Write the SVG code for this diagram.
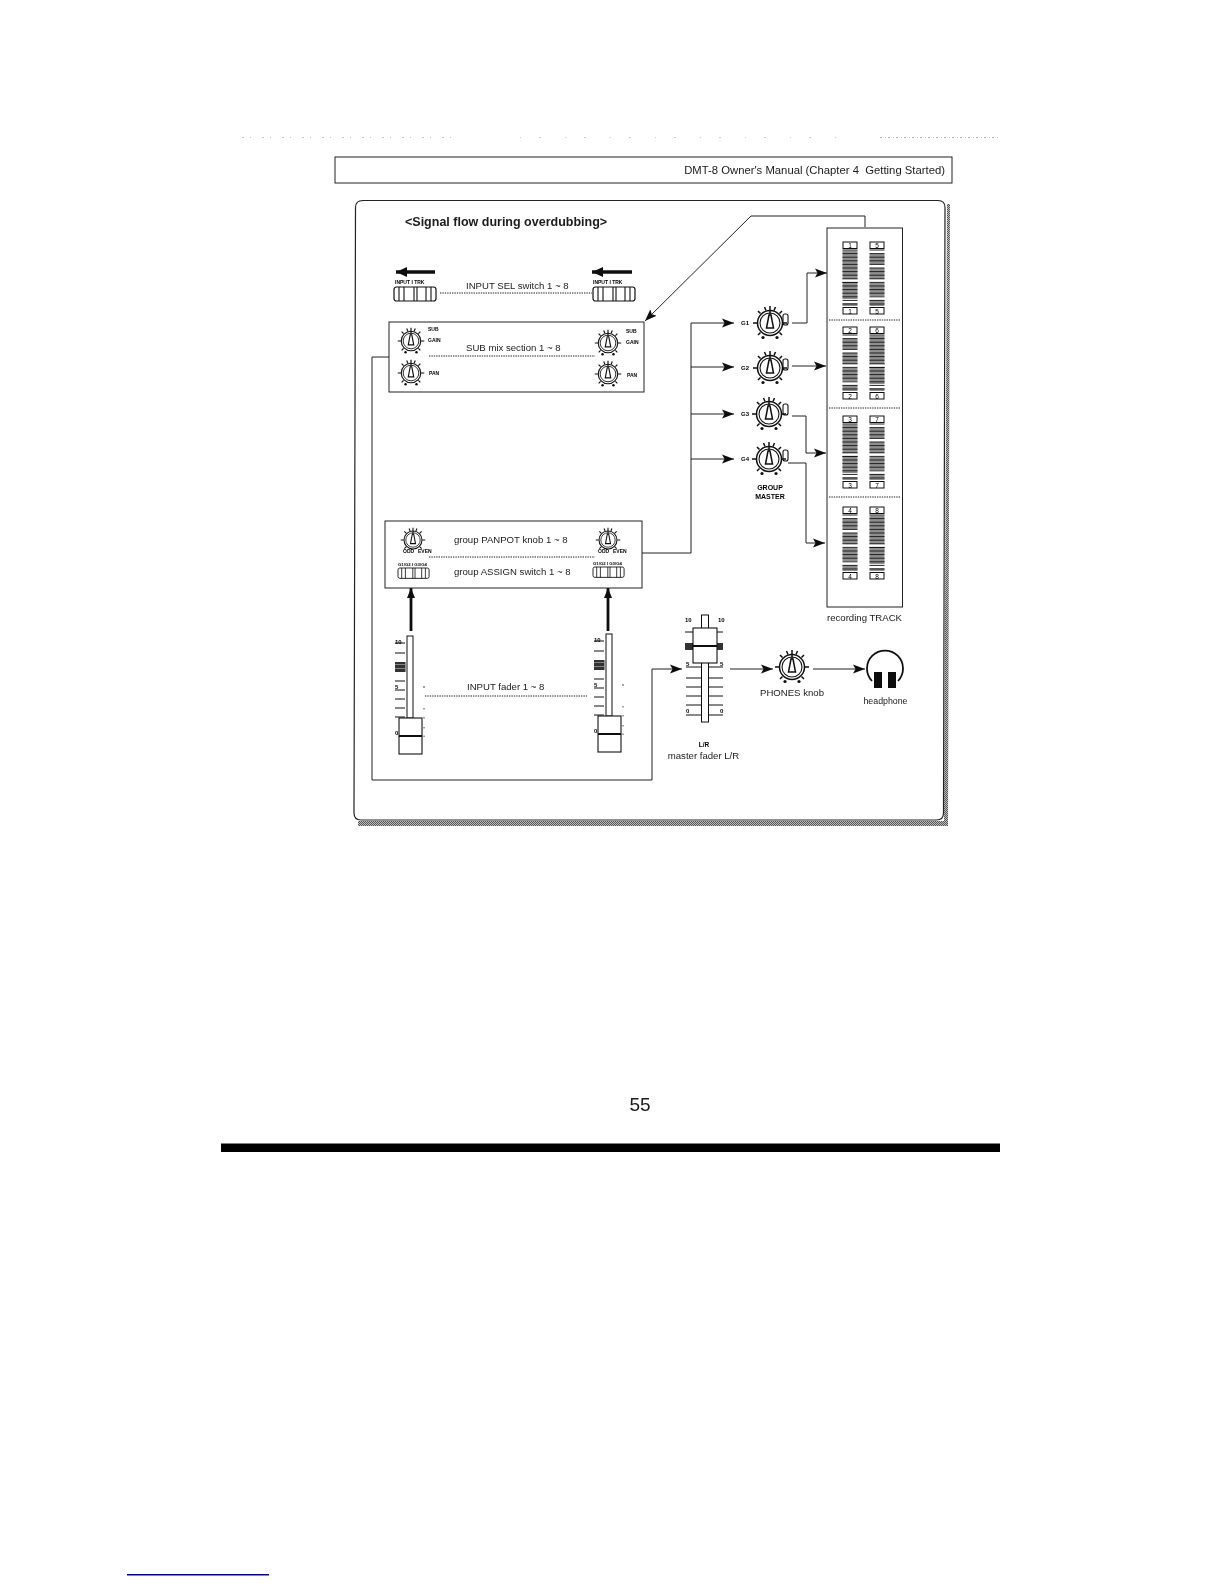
<svg xmlns="http://www.w3.org/2000/svg" width="1224" height="1584" viewBox="0 0 1224 1584">
<style>
text{font-family:"Liberation Sans",Arial,sans-serif;fill:#1a1a1a}
.t{font-size:9.6px}
.b{font-weight:bold}
.m{text-anchor:middle}
.tiny{font-size:5px;font-weight:bold;fill:#000}
.n{font-size:6.5px;text-anchor:middle;fill:#000}
.ln{fill:none;stroke:#222;stroke-width:1}
.box{fill:#fff;stroke:#222;stroke-width:1}
.dot{fill:none;stroke:#222;stroke-width:1;stroke-dasharray:1.4 1}
.thick{fill:none;stroke:#111;stroke-width:2.8}
.big{fill:none;stroke:#111;stroke-width:3.6}
</style>
<defs>
<pattern id="stip" width="2" height="2" patternUnits="userSpaceOnUse"><rect width="2" height="2" fill="#bdbdbd"/><rect width="1" height="1" fill="#555"/><rect x="1" y="1" width="1" height="1" fill="#555"/></pattern>
<filter id="scan" x="0" y="0" width="100%" height="100%"><feGaussianBlur stdDeviation="0.35"/></filter>
<marker id="ah" markerUnits="userSpaceOnUse" markerWidth="13" markerHeight="10" refX="12" refY="5" orient="auto"><path d="M0,0.5 L12,5 L0,9.5 L2.500,5 Z" fill="#111"/></marker>
<marker id="th" markerUnits="userSpaceOnUse" markerWidth="11" markerHeight="9" refX="10" refY="4.500" orient="auto"><path d="M0,0.500 L10,4.500 L0,8.500 Z" fill="#111"/></marker>
<marker id="tb" markerUnits="userSpaceOnUse" markerWidth="12" markerHeight="11" refX="11" refY="5.500" orient="auto"><path d="M0,0.500 L11,5.500 L0,10.500 Z" fill="#111"/></marker>
<g id="knob0">
<circle r="12.500" fill="#fff" stroke="#111" stroke-width="1.500"/>
<circle r="10" fill="none" stroke="#111" stroke-width="1.100"/>
<path d="M0,-17V-8M-17,0H-13M13,0H17M-12,-12L-9.500,-9.500M12,-12L9.500,-9.500M-12,12L-9.500,9.500M12,12L9.500,9.500M-5.500,-16L-4,-12.500M5.500,-16L4,-12.500" fill="none" stroke="#111" stroke-width="1.500"/>
<path d="M-1,-8L-3.500,5H3.500L1,-8Z" fill="#fff" stroke="#111" stroke-width="1.500"/>
</g>
<g id="knob">
<use href="#knob0"/>
<circle cx="-7" cy="14.500" r="1.600" fill="#111"/><circle cx="7" cy="14.500" r="1.600" fill="#111"/>
</g>
<g id="sw">
<rect x="0" y="0" width="42" height="14" rx="2.500" fill="#fff" stroke="#111" stroke-width="1.200"/>
<path d="M5,0V14M10,0V14M20,0V14M23,0V14M32,0V14M37,0V14" fill="none" stroke="#111" stroke-width="1.100"/>
</g>
<g id="meterA">
<rect width="15" height="58" fill="#fff"/>
<path d="M0,1.500H15V29H0ZM0,33H15V50H0ZM0,54H15V57H0Z" fill="#8e8e8e"/>
<path d="M0,1H15M0,4.600H15M0,8.200H15M0,11.800H15M0,15.400H15M0,19H15M0,22.600H15M0,26.200H15M0,29.800H15M0,33.400H15M0,37H15M0,40.600H15M0,44.200H15M0,47.800H15M0,51.400H15M0,55H15" stroke="#222" stroke-width="1" fill="none"/>
<path d="M0,29.500H15V33H0Z" fill="#fff"/><path d="M0,29.800H15M0,33.400H15" stroke="#111" stroke-width="1"/>
</g>
<g id="meterB">
<rect width="15" height="58" fill="#fff"/>
<path d="M0,5H15V15H0ZM0,19H15V30H0ZM0,34H15V47H0ZM0,51H15V57H0Z" fill="#8e8e8e"/>
<path d="M0,1H15M0,4.600H15M0,8.200H15M0,11.800H15M0,15.400H15M0,19H15M0,22.600H15M0,26.200H15M0,29.800H15M0,33.400H15M0,37H15M0,40.600H15M0,44.200H15M0,47.800H15M0,51.400H15M0,55H15" stroke="#222" stroke-width="1" fill="none"/>
</g>
<g id="fader">
<path d="M-15,7H-5M-15,17H-5M-15,45H-5M-15,54H-5M-15,63H-5M-15,72H-5M-15,81H-5" fill="none" stroke="#111" stroke-width="1"/>
<rect x="-15" y="26" width="10.500" height="10" fill="#333"/>
<path d="M-15,28.500H-4.500M-15,32.500H-4.500" stroke="#999" stroke-width="0.800"/>
<text class="tiny" x="-15" y="8" style="font-size:6px">10</text><text class="tiny" x="-15" y="53" style="font-size:6px">5</text><text class="tiny" x="-15" y="99" style="font-size:6px">0</text>
<rect x="-3" y="0" width="6" height="82" fill="#fff" stroke="#111" stroke-width="1"/>
<rect x="-11" y="82" width="23" height="36" fill="#fff" stroke="#111" stroke-width="1.100"/>
<path d="M-11,100H12" stroke="#111" stroke-width="2" fill="none"/>
<path d="M14,50V52M14,72V73.500M14,81V82.500M14,91V92.500M14,99.500V101" stroke="#333" stroke-width="0.900" fill="none"/>
</g>
</defs>
<rect width="1224" height="1584" fill="#fff"/>
<g filter="url(#scan)">
<g id="page">
<path d="M242,137H460" stroke="#888" stroke-width="1" stroke-dasharray="2 6 1 11" fill="none"/>
<path d="M520,137H850" stroke="#999" stroke-width="1" stroke-dasharray="1 18 2 24" fill="none"/>
<path d="M880,137H998" stroke="#777" stroke-width="1" stroke-dasharray="2 3 1 2" fill="none"/>
<rect x="335" y="157" width="617" height="26" fill="#fff" stroke="#222" stroke-width="1"/>
<text x="945" y="174" text-anchor="end" style="font-size:11.300px;white-space:pre">DMT-8 Owner's Manual (Chapter 4  Getting Started)</text>
<path d="M947,204H950L948,826H358V821H944Z" fill="url(#stip)"/>
<path d="M363,200.500H938Q945,200.500 945,207.500L943.500,813Q943.500,820 936.500,820H361Q354,820 354,813L355.500,207.500Q355.500,200.500 363,200.500Z" fill="#fff" stroke="#222" stroke-width="1.200"/>
<text x="405" y="226" class="b" style="font-size:12.500px">&lt;Signal flow during overdubbing&gt;</text>
<text x="640" y="1111" class="m" style="font-size:19px">55</text>
<rect x="221" y="1143.500" width="779" height="8.500" fill="#000"/>
<rect x="127" y="1574" width="142" height="1.500" fill="#0000a0"/>
</g>
<g id="connectors">
<path class="ln" d="M865,227V216H751L645,321" marker-end="url(#ah)"/>
<path class="ln" d="M389,357H372V780H652V669H682" marker-end="url(#ah)"/>
<path class="ln" d="M642,553H691V323H734" marker-end="url(#ah)"/>
<path class="ln" d="M691,367H734" marker-end="url(#ah)"/>
<path class="ln" d="M691,414H734" marker-end="url(#ah)"/>
<path class="ln" d="M691,459H734" marker-end="url(#ah)"/>
<path class="ln" d="M792,323H807V273H827" marker-end="url(#ah)"/>
<path class="ln" d="M792,366H826" marker-end="url(#ah)"/>
<path class="ln" d="M792,416H806V453H826" marker-end="url(#ah)"/>
<path class="ln" d="M788,463H806V543H825" marker-end="url(#ah)"/>
<path class="ln" d="M730,669H773" marker-end="url(#ah)"/>
<path class="ln" d="M813,669H865" marker-end="url(#ah)"/>
<path class="thick" d="M411,631V588" marker-end="url(#th)"/>
<path class="thick" d="M608,631V588" marker-end="url(#th)"/>
<path class="big" d="M435,272H396" marker-end="url(#tb)"/>
<path class="big" d="M632,272H592" marker-end="url(#tb)"/>
</g>
<g id="input-sel">
<text class="tiny" x="395" y="284">INPUT I TRK</text>
<use href="#sw" x="394" y="287"/>
<text class="tiny" x="593" y="284">INPUT I TRK</text>
<use href="#sw" x="593" y="287"/>
<path class="dot" d="M440,293H592"/>
<text class="t" x="466" y="289">INPUT SEL switch 1 ~ 8</text>
</g>
<g id="sub-mix">
<rect class="box" x="389" y="322" width="255" height="70"/>
<use href="#knob" transform="translate(411,341) scale(.78)"/>
<use href="#knob" transform="translate(411,373) scale(.78)"/>
<use href="#knob" transform="translate(608,343) scale(.78)"/>
<use href="#knob" transform="translate(608,374) scale(.78)"/>
<text class="tiny" x="428" y="331">SUB</text><text class="tiny" x="428" y="342">GAIN</text><text class="tiny" x="429" y="375">PAN</text>
<text class="tiny" x="626" y="333">SUB</text><text class="tiny" x="626" y="344">GAIN</text><text class="tiny" x="627" y="377">PAN</text>
<path class="dot" d="M429,356H595"/>
<text class="t" x="466" y="351">SUB mix section 1 ~ 8</text>
</g>
<g id="group-section">
<rect class="box" x="385" y="521" width="257" height="67"/>
<use href="#knob0" transform="translate(413,540) scale(.72)"/>
<use href="#knob0" transform="translate(608,540) scale(.72)"/>
<text class="tiny" x="403" y="553">ODD</text><text class="tiny" x="418" y="553">EVEN</text>
<text class="tiny" x="598" y="553">ODD</text><text class="tiny" x="613" y="553">EVEN</text>
<path class="dot" d="M429,557H595"/>
<text class="t" x="454" y="543">group PANPOT knob 1 ~ 8</text>
<text class="t" x="454" y="575">group ASSIGN switch 1 ~ 8</text>
<text class="tiny" x="398" y="566" style="font-size:4.300px">G1/G2 I G3/G4</text>
<use href="#sw" transform="translate(398,568) scale(.74)"/>
<text class="tiny" x="593" y="565" style="font-size:4.300px">G1/G2 I G3/G4</text>
<use href="#sw" transform="translate(593,567) scale(.74)"/>
</g>
<g id="input-faders">
<use href="#fader" x="410" y="636"/>
<use href="#fader" x="609" y="634"/>
<path class="dot" d="M425,696H587"/>
<text class="t" x="467" y="690">INPUT fader 1 ~ 8</text>
</g>
<g id="group-master">
<text class="tiny" x="741" y="325" style="font-size:6px">G1</text>
<text class="tiny" x="741" y="370" style="font-size:6px">G2</text>
<text class="tiny" x="741" y="416" style="font-size:6px">G3</text>
<text class="tiny" x="741" y="461" style="font-size:6px">G4</text>
<g id="gm-bulges" fill="#fff" stroke="#111" stroke-width="1.100">
<rect x="783" y="314" width="5" height="11" rx="2"/><rect x="783" y="359" width="5" height="11" rx="2"/><rect x="783" y="404" width="5" height="11" rx="2"/><rect x="783" y="450" width="5" height="11" rx="2"/>
</g>
<use href="#knob" x="770" y="323"/>
<use href="#knob" x="770" y="368"/>
<use href="#knob" x="769" y="414"/>
<use href="#knob" x="769" y="459"/>
<text class="b m" x="770" y="490" style="font-size:7px;fill:#000">GROUP</text>
<text class="b m" x="770" y="499" style="font-size:7px;fill:#000">MASTER</text>
</g>
<g id="recording-track">
<rect class="box" x="827" y="228" width="75.500" height="379"/>
<path class="dot" d="M829,320H901M829,408H901M829,497H901"/>
<use href="#meterA" x="842.500" y="249"/><use href="#meterB" x="869.500" y="249"/>
<use href="#meterB" x="842.500" y="334"/><use href="#meterA" x="869.500" y="334"/>
<use href="#meterA" x="842.500" y="423"/><use href="#meterB" x="869.500" y="423"/>
<use href="#meterB" x="842.500" y="514"/><use href="#meterA" x="869.500" y="514"/>
<g fill="#fff" stroke="#111" stroke-width="1">
<rect x="843" y="242" width="14" height="6.500"/><rect x="870" y="242" width="14" height="6.500"/>
<rect x="843" y="307.500" width="14" height="6.500"/><rect x="870" y="307.500" width="14" height="6.500"/>
<rect x="843" y="327" width="14" height="6.500"/><rect x="870" y="327" width="14" height="6.500"/>
<rect x="843" y="392.500" width="14" height="6.500"/><rect x="870" y="392.500" width="14" height="6.500"/>
<rect x="843" y="416" width="14" height="6.500"/><rect x="870" y="416" width="14" height="6.500"/>
<rect x="843" y="481.500" width="14" height="6.500"/><rect x="870" y="481.500" width="14" height="6.500"/>
<rect x="843" y="507" width="14" height="6.500"/><rect x="870" y="507" width="14" height="6.500"/>
<rect x="843" y="572.500" width="14" height="6.500"/><rect x="870" y="572.500" width="14" height="6.500"/>
</g>
<text class="n" x="850" y="248">1</text><text class="n" x="877" y="248">5</text>
<text class="n" x="850" y="313.500">1</text><text class="n" x="877" y="313.500">5</text>
<text class="n" x="850" y="333">2</text><text class="n" x="877" y="333">6</text>
<text class="n" x="850" y="398.500">2</text><text class="n" x="877" y="398.500">6</text>
<text class="n" x="850" y="422">3</text><text class="n" x="877" y="422">7</text>
<text class="n" x="850" y="487.500">3</text><text class="n" x="877" y="487.500">7</text>
<text class="n" x="850" y="513">4</text><text class="n" x="877" y="513">8</text>
<text class="n" x="850" y="578.500">4</text><text class="n" x="877" y="578.500">8</text>
<text class="t" x="827" y="621">recording TRACK</text>
</g>
<g id="master-fader">
<path d="M685,632H723M686,667H723M686,678H723M686,687H723M686,696H723M686,705H723M686,715H723" fill="none" stroke="#111" stroke-width="1"/>
<rect x="685" y="643" width="38" height="7" fill="#333"/>
<text class="tiny" x="685" y="622" style="font-size:6px">10</text><text class="tiny" x="718" y="622" style="font-size:6px">10</text>
<text class="tiny" x="686" y="666" style="font-size:6px">5</text><text class="tiny" x="720" y="666" style="font-size:6px">5</text>
<text class="tiny" x="686" y="713" style="font-size:6px">0</text><text class="tiny" x="720" y="713" style="font-size:6px">0</text>
<rect x="701.500" y="615" width="7" height="107" fill="#fff" stroke="#111" stroke-width="1"/>
<rect x="693" y="628" width="24" height="35" fill="#fff" stroke="#111" stroke-width="1.100"/>
<path d="M693,646H717" stroke="#111" stroke-width="2" fill="none"/>
<text class="b m" x="704" y="747" style="font-size:6.500px;fill:#000">L/R</text>
<text class="t m" x="703.500" y="759">master fader L/R</text>
</g>
<g id="phones-knob">
<use href="#knob" x="792" y="667"/>
<text class="t m" x="792" y="696">PHONES knob</text>
</g>
<g id="headphone">
<path d="M872,681A18,18 0 1 1 898,681" fill="none" stroke="#111" stroke-width="1.800"/>
<rect x="874" y="672" width="8" height="16" fill="#111"/>
<rect x="888" y="672" width="8" height="16" fill="#111"/>
<text class="m" x="885.500" y="704" style="font-size:8.800px">headphone</text>
</g>
</g>
</svg>
